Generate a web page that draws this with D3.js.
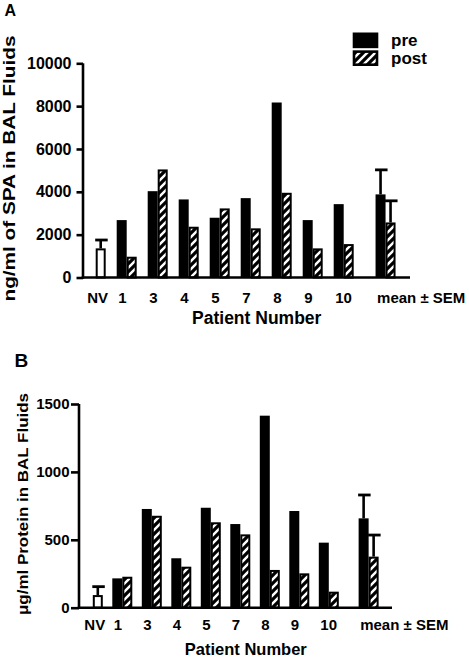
<!DOCTYPE html>
<html><head><meta charset="utf-8">
<script src="https://cdn.jsdelivr.net/npm/d3@7"></script>
<style>
html,body{margin:0;padding:0;background:#fff;}
svg{display:block;font-family:"Liberation Sans",Arial,Helvetica,sans-serif;font-weight:bold;}
</style></head>
<body>
<svg id="chart" width="469" height="658"></svg>
<script>
// ---------- data ----------
const categories = ["NV","1","3","4","5","7","8","9","10","mean \u00b1 SEM"];
// Panel A: ng/ml of SPA
const spaPre  = [null, 2680, 4030, 3645, 2790, 3705, 8170, 2680, 3425, 3880];
const spaPost = [1360,  970, 5045, 2370, 3225, 2295, 3955, 1360, 1560, 2570];
const spaSemPre  = [null,null,null,null,null,null,null,null,null,1145];
const spaSemPost = [390, null,null,null,null,null,null,null,null,1010];
const spaTicks = [0,2000,4000,6000,8000,10000];
// Panel B: µg/ml protein
const protPre  = [null, 216, 727, 364, 736, 616, 1414, 712, 479, 658];
const protPost = [  93, 228, 677, 302, 629, 540,  278, 253, 118, 376];
const protSemPre  = [null,null,null,null,null,null,null,null,null,172];
const protSemPost = [  62,null,null,null,null,null,null,null,null,159];
const protTicks = [0,500,1000,1500];
const seriesNames = ["pre","post"];

const svg = d3.select("#chart");
const defs = svg.append("defs");
const pat = defs.append("pattern").attr("id","hatch").attr("patternUnits","userSpaceOnUse")
  .attr("width",8).attr("height",8);
pat.append("rect").attr("width",8).attr("height",8).attr("fill","#fff");
pat.append("path").attr("d","M-2,2 L2,-2 M0,8 L8,0 M6,10 L10,6")
  .attr("stroke","#000").attr("stroke-width",3.2);

// slot index: last group (mean) set apart by an extra gap
const slot = i => i + (i === categories.length - 1 ? 0.35 : 0);

function panel(cfg){
  const g = svg.append("g");
  const y = d3.scaleLinear().domain(cfg.domain).range([cfg.y0, cfg.y1]);
  const x = d3.scaleLinear().domain([0, 9]).range([cfg.gx0, cfg.gx0 + 9*cfg.step]);
  const bw = cfg.bw;

  // bars
  categories.forEach((c,i)=>{
    const gl = x(slot(i));
    const pre = cfg.pre[i], post = cfg.post[i];
    if(pre != null){
      g.append("rect").attr("x",gl).attr("width",bw)
        .attr("y",y(pre)).attr("height",y(0)-y(pre)).attr("fill","#000");
    }
    if(post != null){
      const isNV = pre == null;
      g.append("rect").attr("x",gl+bw+1).attr("width",bw-2)
        .attr("y",y(post)+1).attr("height",y(0)-y(post)-1)
        .attr("fill", isNV ? "#fff" : "url(#hatch)")
        .attr("stroke","#000").attr("stroke-width",2);
    }
    // error bars
    const errs = [[pre, cfg.semPre[i], gl],[post, cfg.semPost[i], gl+bw]];
    errs.forEach(([v,s,bx])=>{
      if(v==null || s==null) return;
      const cx = bx + bw/2;
      g.append("line").attr("x1",cx).attr("x2",cx).attr("y1",y(v)).attr("y2",y(v+s))
        .attr("stroke","#000").attr("stroke-width",2.6);
      g.append("line").attr("x1",bx-0.5).attr("x2",bx+bw+2).attr("y1",y(v+s)).attr("y2",y(v+s))
        .attr("stroke","#000").attr("stroke-width",2.8);
    });
    // category label
    g.append("text").attr("x",gl+1.5).attr("y",cfg.labY)
      .attr("font-size",cfg.catFont).attr("fill","#000").text(c);
  });

  // y axis
  const ax = g.append("g").attr("transform",`translate(${cfg.axX},0)`)
    .call(d3.axisLeft(y).tickValues(cfg.ticks).tickFormat(d3.format("d"))
      .tickSize(cfg.tickLen).tickPadding(cfg.tickPad).tickSizeOuter(0));
  ax.select(".domain").attr("stroke","#000").attr("stroke-width",2.6)
    .attr("d",`M0,${y(0)+1.3}V${cfg.y1}`);
  ax.selectAll(".tick line").attr("stroke","#000").attr("stroke-width",2.6);
  ax.selectAll(".tick text").attr("font-size",cfg.tickFont).attr("font-weight","bold")
    .attr("font-family",'"Liberation Sans",Arial,sans-serif').attr("fill","#000");
  // x axis line
  g.append("line").attr("x1",cfg.axX-1.3).attr("x2",cfg.xEnd).attr("y1",y(0)).attr("y2",y(0))
    .attr("stroke","#000").attr("stroke-width",2.6);

  // titles
  g.append("text").attr("x",cfg.xtX).attr("y",cfg.xtY).attr("text-anchor","middle")
    .attr("font-size",cfg.xtFont).text("Patient Number");
  g.append("text").attr("transform",`translate(${cfg.ytX},${cfg.ytY}) rotate(-90)`)
    .attr("text-anchor","middle").attr("font-size",cfg.ytFont)
    .attr("textLength",cfg.ytLen).attr("lengthAdjust","spacingAndGlyphs").text(cfg.ytText);
  g.append("text").attr("x",cfg.lX).attr("y",cfg.lY).attr("font-size",cfg.lFont).text(cfg.letter);
  return {g,y,x};
}

const A = panel({
  domain:[0,10000], y0:277.5, y1:63.3, gx0:85.7, step:31, bw:10,
  pre:spaPre, post:spaPost, semPre:spaSemPre, semPost:spaSemPost, ticks:spaTicks,
  axX:83, xEnd:410, tickLen:6.5, tickPad:5, tickFont:"16px",
  labY:302.7, catFont:"15px",
  xtX:256.7, xtY:324, xtFont:"17.5px",
  ytX:15, ytY:168.5, ytFont:"17px", ytLen:266, ytText:"ng/ml of SPA in BAL Fluids",
  lX:4.5, lY:15.5, lFont:"16px", letter:"A"
});

const B = panel({
  domain:[0,1500], y0:607.7, y1:404, gx0:82.8, step:29.5, bw:10,
  pre:protPre, post:protPost, semPre:protSemPre, semPost:protSemPost, ticks:protTicks,
  axX:79, xEnd:392, tickLen:8, tickPad:1.5, tickFont:"15px",
  labY:630, catFont:"15px",
  xtX:245.8, xtY:655, xtFont:"16.5px",
  ytX:28, ytY:504, ytFont:"14px", ytLen:222, ytText:"\u03bcg/ml Protein in BAL Fluids",
  lX:14.5, lY:367, lFont:"19px", letter:"B"
});

// legend (panel A)
const leg = svg.append("g");
const legY = d3.scaleBand().domain(seriesNames).range([32.5, 66]).paddingInner(0.12);
seriesNames.forEach((s,i)=>{
  const by = legY(s);
  if(i===0){
    leg.append("rect").attr("x",352.7).attr("y",by).attr("width",25.6).attr("height",legY.bandwidth()).attr("fill","#000");
  } else {
    leg.append("rect").attr("x",354).attr("y",by+1.3).attr("width",23).attr("height",legY.bandwidth()-2.6)
      .attr("fill","url(#hatch)").attr("stroke","#000").attr("stroke-width",2.6);
  }
  leg.append("text").attr("x",391).attr("y",by+legY.bandwidth()-2.5).attr("font-size","17px").text(s);
});
</script>
</body></html>
